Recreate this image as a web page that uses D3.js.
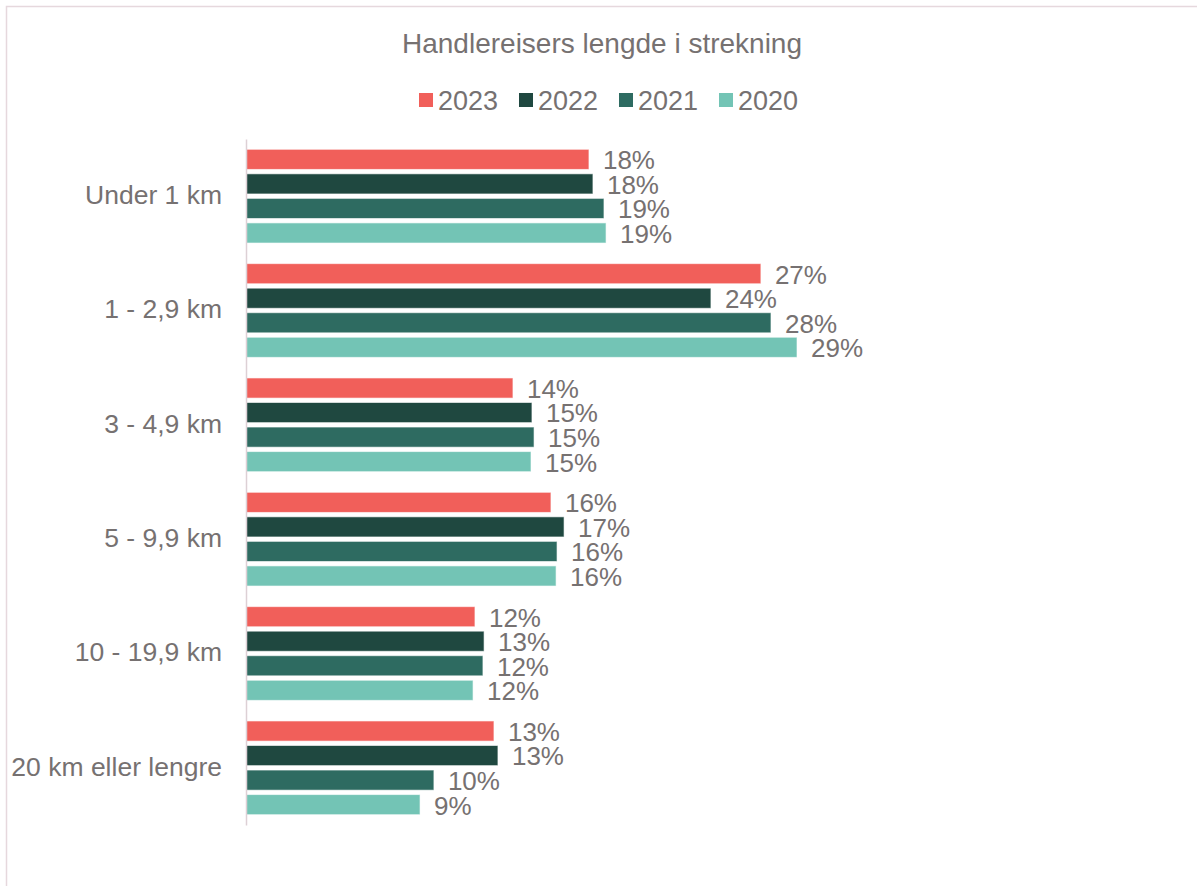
<!DOCTYPE html>
<html>
<head>
<meta charset="utf-8">
<script src="https://cdn.jsdelivr.net/npm/d3@7"></script>
<style>
  body { margin: 0; background: #fff; }
  svg { display: block; font-family: 'Liberation Sans', Arial, sans-serif; }
</style>
</head>
<body>
<script>
const categories = ['Under 1 km', '1 - 2,9 km', '3 - 4,9 km', '5 - 9,9 km', '10 - 19,9 km', '20 km eller lengre']
const years = ['2023', '2022', '2021', '2020']
const values2023 = [18.05, 27.1, 14.05, 16.05, 12.05, 13.05]
const values2022 = [18.26, 24.47, 15.05, 16.74, 12.53, 13.26]
const values2021 = [18.84, 27.63, 15.16, 16.37, 12.47, 9.89]
const values2020 = [18.95, 29.0, 15.0, 16.32, 11.95, 9.16]
const labels2023 = ['18%', '27%', '14%', '16%', '12%', '13%']
const labels2022 = ['18%', '24%', '15%', '17%', '13%', '13%']
const labels2021 = ['19%', '28%', '15%', '16%', '12%', '10%']
const labels2020 = ['19%', '29%', '15%', '16%', '12%', '9%']
const colors = ['#f15f5a', '#1f4840', '#2e6b61', '#73c4b5']

const width = 1197
const height = 886
const textColor = '#767171'

const series = [
  { year: years[0], values: values2023, labels: labels2023, color: colors[0] },
  { year: years[1], values: values2022, labels: labels2022, color: colors[1] },
  { year: years[2], values: values2021, labels: labels2021, color: colors[2] },
  { year: years[3], values: values2020, labels: labels2020, color: colors[3] }
]

const svg = d3.select('body')
  .append('svg')
  .attr('width', width)
  .attr('height', height)

// chart border (runs off the right and bottom edge)
svg.append('rect')
  .attr('x', 6.5)
  .attr('y', 6.5)
  .attr('width', width + 20)
  .attr('height', height + 20)
  .attr('fill', 'none')
  .attr('stroke', '#e6d8dd')
  .attr('stroke-width', 1.5)

svg.append('text')
  .attr('x', 602)
  .attr('y', 53)
  .attr('text-anchor', 'middle')
  .attr('font-size', '28px')
  .attr('fill', textColor)
  .text('Handlereisers lengde i strekning')

const xScale = d3.scaleLinear()
  .domain([0, 29])
  .range([246, 797])

const yScale = d3.scaleBand()
  .domain(categories)
  .range([139, 825])

const inner = d3.scaleBand()
  .domain(years)
  .range([0, yScale.bandwidth()])
  .paddingInner(0.18)
  .paddingOuter(0.42)

// legend
const legend = svg.append('g')
  .selectAll('g')
  .data(series)
  .enter()
  .append('g')
  .attr('transform', function (d, i) { return `translate(${419 + i * 100}, 0)` })
legend.append('rect')
  .attr('x', 0)
  .attr('y', 93)
  .attr('width', 14)
  .attr('height', 14)
  .attr('fill', function (d) { return d.color })
legend.append('text')
  .attr('x', 19)
  .attr('y', 110)
  .attr('font-size', '27px')
  .attr('fill', textColor)
  .text(function (d) { return d.year })

// bars
const groups = svg.append('g')
  .selectAll('g')
  .data(series)
  .enter()
  .append('g')

groups.selectAll('rect')
  .data(function (s) { return s.values.map(function (v, i) { return { s: s, v: v, c: categories[i] } }) })
  .enter()
  .append('rect')
  .attr('x', xScale(0))
  .attr('y', function (d) { return yScale(d.c) + inner(d.s.year) })
  .attr('width', function (d) { return xScale(d.v) - xScale(0) })
  .attr('height', inner.bandwidth())
  .attr('fill', function (d) { return d.s.color })
  .attr('stroke', 'rgba(255,255,255,0.6)')
  .attr('stroke-width', 1)

groups.selectAll('text')
  .data(function (s) { return s.values.map(function (v, i) { return { s: s, v: v, c: categories[i], label: s.labels[i] } }) })
  .enter()
  .append('text')
  .attr('x', function (d) { return xScale(d.v) + 14 })
  .attr('y', function (d) { return yScale(d.c) + inner(d.s.year) + inner.bandwidth() / 2 })
  .attr('dy', '0.38em')
  .attr('font-size', '26px')
  .attr('fill', textColor)
  .text(function (d) { return d.label })

// category axis
const yAxis = d3.axisLeft(yScale)
  .tickSize(0)
  .tickPadding(24)
const axisG = svg.append('g')
  .attr('transform', `translate(${xScale(0)}, 0)`)
  .call(yAxis)
axisG.select('.domain')
  .attr('stroke', '#ddd0d5')
  .attr('stroke-width', 1.5)
axisG.selectAll('text')
  .attr('font-size', '26.5px')
  .attr('font-family', "'Liberation Sans', Arial, sans-serif")
  .attr('fill', textColor)
  .attr('dy', '0.3em')
</script>
</body>
</html>
